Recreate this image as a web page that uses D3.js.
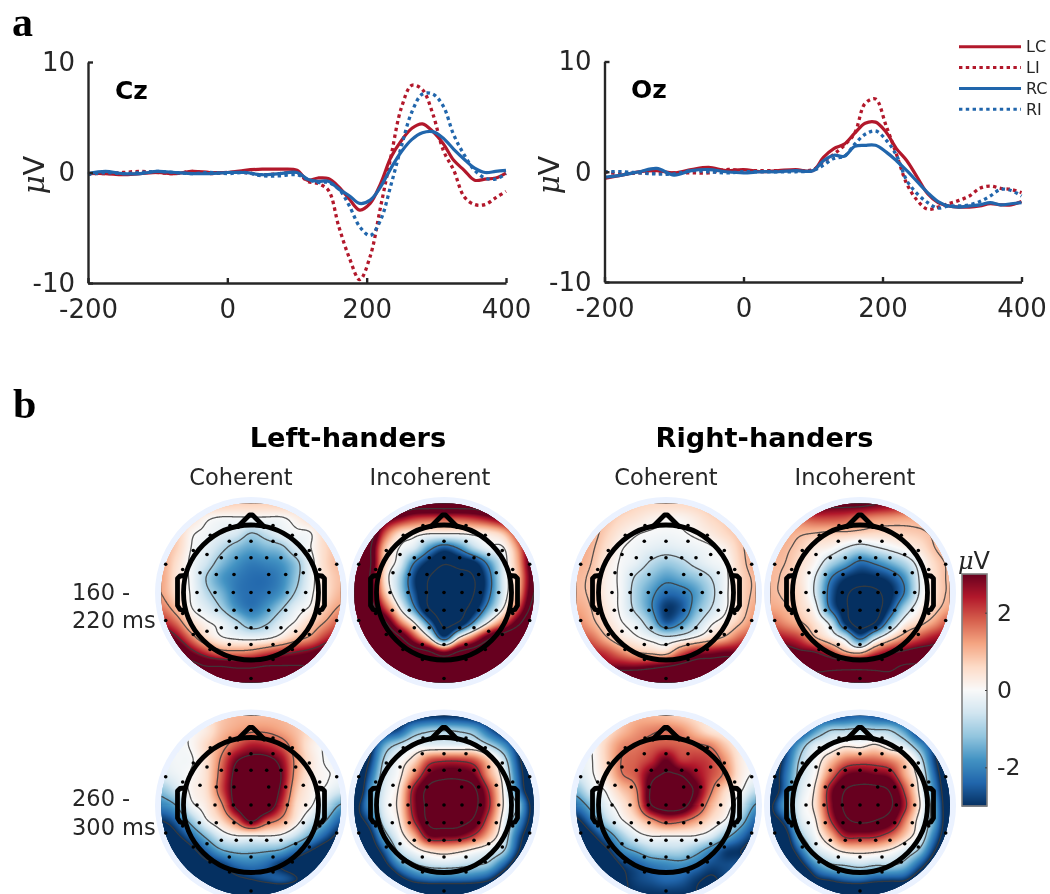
<!DOCTYPE html>
<html><head><meta charset="utf-8">
<script src="https://cdn.jsdelivr.net/npm/d3@7/dist/d3.min.js"></script>
<style>
html,body{margin:0;padding:0;background:#fff;overflow:hidden}
#wrap{position:relative;width:1050px;height:894px}
canvas,svg{position:absolute;left:0;top:0}
text{font-family:"DejaVu Sans";fill:#262626}
</style></head><body><div id="wrap"><canvas id="heat" width="1050" height="894"></canvas><svg id="chart" width="1050" height="894"></svg></div>
<script>
// ---------- ERP waveforms ----------
const times=[-200,-175,-150,-125,-100,-75,-50,-25,0,25,50,75,100,115,130,145,160,175,190,205,220,235,250,265,280,295,310,325,340,355,370,385,400];
const czLC=[-.1,-.1,-.2,-.1,0,-.1,.1,0,0,.2,.3,.3,.2,-.7,-.5,-.55,-1.3,-2.4,-3.4,-2.8,-1,1.4,2.9,4,4.4,3.7,2.6,1.1,.2,-.7,-.6,-.5,-.05];
const czLI=[-.1,-.1,0,.1,0,-.1,.1,-.1,0,0,-.2,-.1,0,-.8,-1,-1.6,-4.9,-7.7,-9.7,-7.6,-3.1,1.5,5.9,7.9,7.5,5.3,2,.2,-2.2,-2.9,-2.9,-2.3,-1.7];
const czRC=[-.1,.1,-.1,-.1,.1,0,-.1,-.1,0,0,-.2,-.1,0,-.6,-.8,-.8,-1.5,-2.1,-2.8,-2.5,-1.3,.4,1.9,3,3.6,3.7,3.1,2.1,1.2,.4,0,.1,.2];
const czRI=[-.2,0,-.1,0,.1,0,-.1,0,-.1,0,-.3,-.3,-.2,-.6,-.9,-.9,-1.5,-3,-4.9,-5.7,-4.3,-1.1,2.4,5.5,7.1,7.1,6,3.4,1.6,.2,-.5,-.6,-.1];
const ozLC=[-.6,-.3,0,.1,-.1,.2,.4,.1,.2,0,.1,.2,.1,1.3,2.1,2.5,3.5,4.4,4.5,3.6,2.1,1,-.5,-2,-2.8,-3.1,-3.2,-3.2,-3.1,-2.9,-3,-3,-2.7];
const ozLI=[0,-.2,-.1,-.1,-.1,-.1,-.1,.2,.1,.1,.1,.1,.2,.9,1.6,2.4,3.5,6.2,6.6,4.2,1.6,-1.1,-2.6,-3.4,-3.2,-2.9,-2.6,-2.2,-1.5,-1.3,-1.5,-1.6,-1.9];
const ozRC=[-.5,-.3,0,.3,-.3,.1,.2,0,-.1,0,0,.1,.1,1,1.5,1.4,2.3,2.4,2.4,1.8,1,.1,-.9,-1.9,-2.7,-3.1,-3.2,-3.1,-3,-2.8,-3,-2.9,-2.8];
const ozRI=[0,0,-.1,-.2,-.2,.1,0,-.1,0,0,0,0,.1,.6,1.2,1.4,2.5,3.4,3.7,2.9,1.5,-.8,-2,-2.8,-3.3,-3.1,-3.1,-3,-2.7,-2.2,-1.6,-1.7,-2.2];
const conditions=["LC","LI","RC","RI"];
const condColor={LC:"#b2182b",LI:"#b2182b",RC:"#2166ac",RI:"#2166ac"};
const condDotted={LC:false,LI:true,RC:false,RI:true};
const xTicks=[-200,0,200,400], yTicks=[-10,0,10];

// ---------- scalp potential fields (uV), rows front to back, columns left to right ----------
const mapLC1=[
[1,.9,.9,.8,.8,.7,.7,.7,.8,.8,.9,1,1],
[1,.8,.5,.1,-.05,-.05,-.05,-.05,-.05,.2,.6,.9,1],
[1,.8,.1,-.1,-.3,-.5,-1,-.7,-.3,-.1,0,.7,1],
[1.1,.7,0,-.3,-.8,-1.3,-1.6,-1.4,-1.2,-.5,0,.6,1],
[1.2,.5,-.1,-.6,-1.3,-1.8,-2.1,-2,-1.8,-1.2,-.2,.6,1],
[1.2,.4,-.1,-1,-1.7,-2.1,-2.3,-2.3,-2,-1.2,-.2,.5,.9],
[1.2,.5,-.05,-.8,-1.4,-2.1,-2.3,-2.2,-1.8,-.9,-.1,.5,1],
[1.6,.9,.05,-.4,-1,-1.8,-2.2,-1.8,-1.1,-.3,.1,.8,1.3],
[2.4,1.7,.6,.1,-.2,-.8,-1.4,-1.1,-.4,.1,.7,1.3,1.9],
[3.5,2.8,1.6,.6,.1,-.1,-.2,-.1,.3,.9,1.4,2.2,2.8],
[4,4,3,2.2,1.6,1.5,1.6,2,2.4,2.7,3,3.5,4],
[5,5,4.5,4,4,3.8,3.8,4,4,4,4,4.5,5],
[5,5,5,5,5,5,5,4.6,4.6,5,5,5,5]];
const mapLI1=[
[5,5,5,5,4.5,4.5,4.5,4.5,4.5,5,5,5,5],
[5,4.5,3.5,2.8,2.2,2,2,2,2.2,2.6,3.2,4,4.5],
[5,4.5,2,.6,.3,.1,.1,.1,.2,.4,.9,2.5,4.5],
[5,4,1,0,-.5,-1.8,-2.6,-2,-.9,-.2,0,1.5,4],
[5,4,.8,-.3,-2.1,-3.2,-3.9,-3.6,-3.2,-1.8,-.3,1.2,3.8],
[5,3.8,.6,-.9,-2.8,-4,-4.5,-4.4,-4,-2.4,-.4,1,3.5],
[5,3.8,1,-.8,-2.6,-4.1,-4.6,-4.6,-4,-2.3,-.4,1.2,3.7],
[5,4.5,2.2,.1,-1.9,-4,-4.6,-4.5,-3.4,-1.6,.1,2,4.2],
[5,5,4,1.8,.1,-2.2,-4.3,-3.8,-1.8,.2,1.8,3.5,5],
[5,5,5,4,2.2,.2,-2.6,.1,1.8,3.5,4.5,5,5],
[5,5,5,5,4.5,4,3,4,4.5,5,5,5,5],
[5,5,5,5,5,5,5,5,5,5,5,5,5],
[5,5,5,5,5,5,5,5,5,5,5,5,5]];
const mapRC1=[
[1,1,1,.9,.7,.6,.6,.6,.7,.9,1,1,1],
[1.2,1.1,.9,.6,.4,.2,.1,.1,.3,.6,.8,1,1.2],
[1.2,1.1,.7,.3,.05,-.05,-.1,-.05,.1,.3,.6,.9,1.2],
[1.2,1,.5,.05,-.15,-.3,-.4,-.3,-.2,-.05,.2,.8,1.2],
[1.1,.9,.3,-.05,-.3,-.8,-1.1,-.9,-.5,-.2,0,.7,1.2],
[1,.8,.2,-.1,-.8,-1.3,-1.7,-1.5,-1.2,-.7,-.1,.6,1],
[1,.8,.2,-.1,-1,-1.7,-2.3,-2.2,-1.7,-.9,-.1,.6,1],
[1.2,.9,.3,-.1,-.9,-1.8,-2.9,-2.6,-1.5,-.7,-.05,.6,1.2],
[1.5,1.1,.5,.05,-.3,-1.2,-2.5,-1.9,-.9,-.1,.3,.9,1.5],
[2,1.7,1,.4,.1,-.2,-.5,-.3,.1,.6,1.1,1.8,2.2],
[3,2.5,2.1,1.5,1,.8,.7,1.8,2.6,2.8,3,3,3.2],
[4,3.5,3,3,3,3.2,3.5,3.8,4,4,4,4,4],
[5,5,5,5,5,5,5,5,5,5,5,5,5]];
const mapRI1=[
[3.5,3.5,3.5,3.5,3.2,3.2,3.2,3,2.8,2.5,2.3,2.2,2.2],
[1.6,1.6,1.8,2,2,1.9,1.6,1.4,1.3,1.2,1.2,1.2,1.3],
[1.2,1.2,1,.9,.8,.8,.7,.6,.6,.7,.8,1,1.2],
[1.1,1,.7,.3,.1,-.4,-.8,-.5,-.2,.1,.4,.9,1.2],
[1,.9,.5,.05,-.9,-1.6,-2.3,-2,-1.5,-.9,-.1,.6,1],
[1,.8,.4,-.4,-2,-2.9,-3.2,-3.1,-2.7,-1.8,-.3,.5,1],
[1,.8,.5,-.5,-2.4,-3.5,-4,-3.9,-3.2,-2,-.3,.5,1],
[1.2,1,.6,-.1,-2.2,-3.5,-4.3,-4.2,-2.8,-1,.1,.7,1.2],
[1.8,1.4,1,.4,-.6,-3,-4.2,-3.6,-1.5,.1,.7,1.3,2],
[2.6,2.4,2,1,.3,-.6,-2.3,-.7,.5,1.4,2,2.5,2.8],
[3.5,3.5,3.2,3,2.2,1.2,.9,2,2.8,3.2,3.5,3.5,3.6],
[5,5,5,4.5,4.5,4.5,4.5,4.5,4.5,5,5,5,5],
[5,5,5,5,5,5,5,5,5,5,5,5,5]];
const mapLC2=[
[.1,.2,.2,.4,.8,1,1,1,1,.8,.6,.3,.2],
[-.1,-.05,.05,.3,.9,1.2,1.4,1.4,1.2,.9,.5,.2,.1],
[-.1,-.1,.05,.6,1.2,1.9,2.4,2.3,1.9,1.1,.3,-.02,.05],
[-.2,-.1,-.05,.5,1.6,2.9,3.3,3.3,2.7,1.3,.4,-.05,-.1],
[-.4,-.2,.05,.5,1.8,3.3,3.8,3.8,3,1.2,.3,.05,-.1],
[-1.2,-.6,.1,.5,1.9,3.4,4,3.9,2.8,.9,.2,-.1,-.5],
[-2,-1.5,-.2,.3,1.3,3.2,3.9,3.8,2.3,.6,.05,-.7,-1.6],
[-3,-2.4,-1.2,-.1,.6,1.7,3.1,2,1.3,.3,-.6,-1.5,-2.5],
[-4,-3.2,-2.3,-1.3,-.4,0,.05,.05,-.1,-.7,-1.6,-2.5,-3.3],
[-4,-4,-3.3,-2.4,-1.6,-1.3,-1.3,-1.4,-1.6,-2.3,-3,-3.6,-4],
[-5,-5,-4,-3.4,-3,-2.4,-2.2,-2.4,-3,-3.5,-4,-4,-5],
[-5,-5,-5,-4.5,-4,-3.4,-3.1,-2.8,-2.6,-3,-3.8,-4,-5],
[-5,-5,-5,-5,-5,-5,-5,-5,-5,-5,-5,-5,-5]];
const mapLI2=[
[-5,-5,-4,-3.5,-3.2,-3,-3,-3,-3.2,-3.5,-4,-5,-5],
[-5,-4.5,-3.2,-2.6,-1.5,-1.1,-1,-1.1,-1.4,-2.4,-3.4,-4.4,-4.5],
[-5,-3.5,-1.6,-.8,-.3,-.3,-.3,-.3,-.3,-.9,-1.8,-3.2,-4],
[-4.5,-3,-.9,-.1,.6,1.9,2.2,2.2,1.9,.8,-.6,-2.8,-4],
[-4.5,-2.5,-.6,.1,1.5,3,3.4,3.4,3,1.3,-.1,-2.5,-4],
[-4.5,-2,-.4,.4,2.6,4,4.4,4.4,3.9,2.2,.1,-2.2,-4],
[-3.5,-1.8,-.3,.5,2.7,4,4.5,4.4,4,2.4,.2,-1.2,-3.5],
[-3.5,-2.6,-.6,.3,2.3,3.9,4.2,4.1,3.5,1.8,-.1,-1.8,-3.5],
[-4.5,-3.4,-1.4,-.1,1.1,2.9,3,2.9,2.2,1,-.4,-2.5,-4],
[-5,-4,-2.5,-.8,-.05,.5,.7,.5,.1,-.3,-1,-3,-4.5],
[-5,-5,-3.5,-2,-1.2,-.8,-.7,-.8,-1,-1.3,-2.5,-4,-5],
[-5,-5,-5,-3.6,-2.8,-2.5,-2.5,-2.5,-2.6,-3,-4,-5,-5],
[-5,-5,-5,-5,-5,-5,-5,-5,-5,-5,-5,-5,-5]];
const mapRC2=[
[.1,.2,.3,.7,1,1,.9,.7,.5,.3,.2,.1,.1],
[.05,.05,.4,.9,1.3,1.5,1.6,1.4,.9,.4,.2,.05,.05],
[-.1,-.02,.7,1.4,1.6,1.8,1.9,1.8,1.7,1.5,.8,.2,-.02],
[-.2,-.05,.7,1.6,1.8,2.2,3,2.2,2.2,2,1.3,.3,0],
[-.5,-.1,.5,1.5,1.9,3.1,3.5,3.4,2.7,2,1.4,.3,-.1],
[-1.3,-.4,.05,.8,1.5,3.5,3.9,3.9,3.2,1.7,.6,.05,-.7],
[-2.2,-1.3,-.3,.3,1.2,3.3,3.9,3.8,2.6,1.1,.3,-.5,-1.7],
[-3.2,-2.2,-.9,-.1,.5,1.3,2,1.8,1.2,.5,-.1,-1.2,-2.4],
[-4,-3.2,-2.2,-1.1,-.3,.05,.05,.05,0,-.4,-1.3,-2.2,-3],
[-4.5,-3.8,-3.2,-2,-1.5,-1,-.9,-.9,-1.3,-2,-2.8,-3,-3.5],
[-4,-4,-4,-3,-2.6,-2.2,-2,-1.9,-2.2,-2.7,-2.7,-2.6,-3],
[-4,-4,-4,-3.2,-2.8,-2.6,-2.4,-2.5,-2.9,-3.1,-2.8,-2.5,-3],
[-4,-4,-3,-3,-3,-3,-3,-3,-3,-3,-3,-3,-3]];
const mapRI2=[
[-5,-4.4,-3.4,-3,-2.8,-2.6,-2.4,-2.6,-2.8,-3.2,-4,-5,-5],
[-5,-4,-3,-1.8,-1,-.9,-.8,-.9,-1,-1.8,-3.3,-3.8,-4.5],
[-4.5,-3,-1.5,-.4,-.2,.2,.1,.4,-.1,-.5,-1.7,-3,-4],
[-4,-2.6,-.9,-.1,.8,1.6,1.8,1.8,1.5,.8,-.6,-2.8,-4],
[-4,-2.3,-.7,.1,1.6,2.9,3.2,3,2.7,1.2,-.1,-2.4,-4],
[-4,-2.2,-.5,.4,2.6,4,4.4,4.4,3.9,2,.1,-2,-4],
[-3.2,-1.6,-.3,.5,2.6,4.2,4.6,4.5,4.2,2.4,.3,-1.6,-4],
[-3.5,-2.6,-.5,.2,2.1,3.7,4.2,4,3.4,1.6,-.1,-1.6,-4],
[-4.5,-3.5,-1.2,-.1,1,2.4,2.5,2.4,1.8,.8,-.3,-2.2,-4],
[-5,-4,-2.3,-.7,-.05,.5,.6,.5,.2,-.4,-1.2,-3,-4.5],
[-5,-5,-3.5,-2,-1.2,-1,-.8,-1,-1,-1.4,-2.6,-4,-5],
[-5,-5,-5,-3.4,-3,-2.6,-2.5,-2.8,-2.9,-3,-4,-5,-5],
[-5,-5,-5,-5,-5,-5,-5,-5,-5,-5,-5,-5,-5]];
const levelsLC1=[-1,0,1.2,2.6,3.8], levelsLI1=[-4,-2.1,0,3.7],
      levelsRC1=[-1.9,-.7,0,.9,3.3], levelsRI1=[-3.7,-2.1,-.4,.9,2.9,4.7],
      levelsLC2=[-3,-1.5,0,1.5,3], levelsLI2=[-3,-1,.3,2.3,3.7],
      levelsRC2=[-3,-1.6,0,1.6,3.4], levelsRI2=[-3,-1,.3,2.2,4];
const maps=[
 {grid:mapLC1,levels:levelsLC1,col:0,row:0},{grid:mapLI1,levels:levelsLI1,col:1,row:0},
 {grid:mapRC1,levels:levelsRC1,col:2,row:0},{grid:mapRI1,levels:levelsRI1,col:3,row:0},
 {grid:mapLC2,levels:levelsLC2,col:0,row:1},{grid:mapLI2,levels:levelsLI2,col:1,row:1},
 {grid:mapRC2,levels:levelsRC2,col:2,row:1},{grid:mapRI2,levels:levelsRI2,col:3,row:1}];
const sensorRows=[
 [-67,[-21,22]],[-57.3,[-40.7,41.3]],[-51.3,[-21.7,0,22]],[-42,[-57.7,58.3]],[-38,[-44,44.7]],
 [-34.7,[-29.7,-14.7,0,15.7,30]],[-28.3,[-85.3,85.7]],[-23,[-68.3,68.7]],[-19.7,[-51,52.3]],
 [-18,[-34.7,-17,17.7,34.7]],[0,[-54,-36,-17.7,0,18,36.3,54.7]],[17.7,[-51.7,-34.7,-17,0,17.7,34.7,52.3]],
 [21,[-68.3,68.7]],[28,[-85.3,85.7]],[35.3,[-29.7,-14.7,0,15.7,30]],[38.7,[-44,44.7]],[42,[-57.7,58.3]],
 [52,[-21.7,0,22]],[57,[-41,41.3]],[67,[-21.5,22]],[86,[0]]];
const colHeads=["Coherent","Incoherent","Coherent","Incoherent"];
const groupHeads=["Left-handers","Right-handers"];
const rowLabels=[["160 -","220 ms"],["260 -","300 ms"]];
const barTicks=[-2,0,2];
const rdbuStops=["#67001f","#b2182b","#d6604d","#f4a582","#fddbc7","#f9f9f9","#d1e5f0","#92c5de","#4393c3","#2166ac","#053061"];

// ---------- layout ----------
const svg=d3.select("#chart"), ctx=document.getElementById("heat").getContext("2d");
const FS=26;
const panels=[
 {name:"Cz",series:[czLC,czLI,czRC,czRI],x0:88,x1:506,y0:62,y1:283,labX:115,labY:99,muX:44},
 {name:"Oz",series:[ozLC,ozLI,ozRC,ozRI],x0:604.5,x1:1021.5,y0:61.5,y1:282,labX:631,labY:97.5,muX:559}];

function muV(sel,x,y,size,rot){
  const t=sel.append("text").attr("transform",`translate(${x},${y})`+(rot?" rotate(-90)":""))
    .attr("text-anchor","middle").style("font-size",size+"px");
  t.append("tspan").attr("font-style","italic").attr("font-family","DejaVu Serif, serif").text("μ");
  t.append("tspan").text("V");
}
panels.forEach(p=>{
  const x=d3.scaleLinear().domain([-200,400]).range([p.x0,p.x1]);
  const y=d3.scaleLinear().domain([-10,10]).range([p.y1,p.y0]);
  const g=svg.append("g");
  const line=d3.line().x((d,i)=>x(times[i])).y(d=>y(d)).curve(d3.curveCatmullRom.alpha(.5));
  conditions.forEach((c,i)=>{
    g.append("path").attr("d",line(p.series[i])).attr("fill","none").attr("stroke",condColor[c])
     .attr("stroke-width",condDotted[c]?3.3:3.2).attr("stroke-dasharray",condDotted[c]?"3.4 3.4":null);
  });
  const ax=g.append("g").attr("transform",`translate(0,${p.y1})`)
    .call(d3.axisBottom(x).tickValues(xTicks).tickFormat(String).tickSizeInner(-5).tickSizeOuter(0).tickPadding(16.5));
  const ay=g.append("g").attr("transform",`translate(${p.x0},0)`)
    .call(d3.axisLeft(y).tickValues(yTicks).tickFormat(String).tickSizeInner(-5).tickSizeOuter(0).tickPadding(13));
  [ax,ay].forEach(a=>{
    a.selectAll("path,line").attr("stroke","#262626").attr("stroke-width",2.4);
    a.selectAll("text").style("font-size",FS+"px").attr("font-family","DejaVu Sans").attr("fill","#262626");
  });
  g.append("text").attr("x",p.labX).attr("y",p.labY).attr("font-weight","bold").style("font-size","25px").style("fill","#000").text(p.name);
  muV(g,p.muX,175,29,true);
});
// legend
const legendY=d3.scalePoint().domain(conditions).range([46.7,109.3]);
const leg=svg.append("g");
conditions.forEach(c=>{
  leg.append("line").attr("x1",959).attr("x2",1021).attr("y1",legendY(c)).attr("y2",legendY(c))
    .attr("stroke",condColor[c]).attr("stroke-width",3).attr("stroke-dasharray",condDotted[c]?"3.4 3.4":null);
  leg.append("text").attr("x",1026).attr("y",legendY(c)+5.5).style("font-size","16px").text(c);
});
// panel letters
[["a",12,36],["b",13,418]].forEach(([t,x,y])=>svg.append("text").attr("x",x).attr("y",y)
  .attr("font-weight","bold").style("font-family","Liberation Serif").style("font-size","42px").style("fill","#000").text(t));
// headings
const colX=[251,444,666,860], rowY=[593,805.5];
[[348,0],[764.5,1]].forEach(([x,i])=>svg.append("text").attr("x",x).attr("y",447).attr("text-anchor","middle")
  .attr("font-weight","bold").style("font-size","27.2px").style("fill","#000").text(groupHeads[i]));
[241,430,666,855].forEach((x,i)=>svg.append("text").attr("x",x).attr("y",485).attr("text-anchor","middle")
  .style("font-size","22.5px").text(colHeads[i]));
[[600,628],[806,835]].forEach((ys,i)=>ys.forEach((y,j)=>svg.append("text").attr("x",72).attr("y",y)
  .style("font-size","22.5px").text(rowLabels[i][j])));

// ---------- topographies ----------
const color=d3.scaleLinear().domain(d3.range(11).map(i=>3-i*.6)).range(rdbuStops).clamp(true);
const N=180;
function cr(a,b,c,d,t){return .5*((2*b)+(c-a)*t+(2*a-5*b+4*c-d)*t*t+(3*b-a-3*c+d)*t*t*t);}
function sample(g,u,v){ // u,v in grid index units
  const n=g.length, i=Math.min(n-2,Math.floor(v)), j=Math.min(n-2,Math.floor(u)), tv=v-i, tu=u-j;
  const at=(r,c)=>g[Math.max(0,Math.min(n-1,r))][Math.max(0,Math.min(n-1,c))];
  const row=r=>cr(at(r,j-1),at(r,j),at(r,j+1),at(r,j+2),tu);
  return cr(row(i-1),row(i),row(i+1),row(i+2),tv);
}
maps.forEach(m=>{
  const cx=colX[m.col], cy=rowY[m.row];
  const px=d3.scaleLinear().domain([0,N-1]).range([cx-90,cx+90]);
  const py=d3.scaleLinear().domain([0,N-1]).range([cy-90,cy+90]);
  const vals=new Float64Array(N*N);
  for(let r=0;r<N;r++)for(let c=0;c<N;c++)vals[r*N+c]=sample(m.grid,c/(N-1)*12,r/(N-1)*12);
  // halo + cells
  ctx.beginPath();ctx.arc(cx,cy,96,0,2*Math.PI);ctx.fillStyle="#ebf2ff";ctx.fill();
  ctx.save();ctx.beginPath();ctx.arc(cx,cy,90,0,2*Math.PI);ctx.clip();
  for(let r=0;r<N;r++)for(let c=0;c<N;c++){
    ctx.fillStyle=color(vals[r*N+c]);
    ctx.fillRect(Math.floor(px(c)),Math.floor(py(r)),2,2);
  }
  ctx.restore();
  // contours
  const clipId=`c${m.col}${m.row}`;
  svg.append("clipPath").attr("id",clipId).append("circle").attr("cx",cx).attr("cy",cy).attr("r",90);
  const g=svg.append("g").attr("clip-path",`url(#${clipId})`);
  const contours=d3.contours().size([N,N]).smooth(true).thresholds(m.levels)(vals);
  const path=d3.geoPath(d3.geoTransform({point(x,y){this.stream.point(px(x-.5),py(y-.5));}}));
  g.selectAll("path").data(contours).join("path").attr("d",path).attr("fill","none")
    .attr("stroke","#3c3c3c").attr("stroke-width",1.3).attr("stroke-opacity",.85);
  // head
  const h=svg.append("g").attr("transform",`translate(${cx},${cy-.5})`);
  const headStyle=s=>s.attr("fill","none").attr("stroke","#000").attr("stroke-width",4.8).attr("stroke-linejoin","round").attr("stroke-linecap","round");
  headStyle(h.append("circle").attr("r",67.5));
  headStyle(h.append("path").attr("d",d3.line()([[-13,-66],[-1.5,-77.5],[1.5,-77.5],[13,-66]])));
  [-1,1].forEach(s=>headStyle(h.append("path").attr("d",d3.line()(
    [[66,-17],[71,-16.5],[73.5,-14],[73.5,13],[71,17],[66,18.5]].map(([a,b])=>[s*a,b])))));
  // sensors
  sensorRows.forEach(([sy,xs])=>xs.forEach(sx=>h.append("circle").attr("cx",sx).attr("cy",sy).attr("r",1.8).attr("fill","#000")));
});
// ---------- colour bar ----------
const barY=d3.scaleLinear().domain([3,-3]).range([574,806]);
const bar=svg.append("g");
bar.selectAll("rect").data(d3.range(574,806)).join("rect").attr("x",962).attr("width",25)
  .attr("y",d=>d).attr("height",1.5).attr("fill",d=>color(barY.invert(d+.5)));
bar.append("rect").attr("x",962).attr("y",574).attr("width",25).attr("height",232).attr("fill","none").attr("stroke","#7f7f7f").attr("stroke-width",1.6);
const cb=bar.append("g").attr("transform","translate(987,0)")
  .call(d3.axisRight(barY).tickValues(barTicks).tickFormat(String).tickSizeInner(-2).tickSizeOuter(0).tickPadding(10));
cb.select(".domain").remove();
cb.selectAll("line").attr("stroke","#404040");
cb.selectAll("text").style("font-size","23.5px").attr("font-family","DejaVu Sans").attr("fill","#262626");
muV(bar,974,569,24,false);
</script></body></html>
